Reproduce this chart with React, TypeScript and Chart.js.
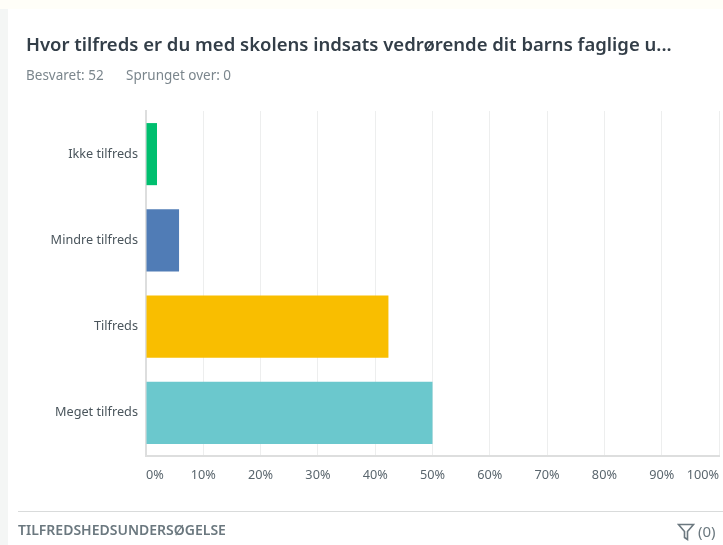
import React, { useEffect, useRef } from "react";
import { Chart, registerables } from "chart.js";

Chart.register(...registerables);

const categories = ["Ikke tilfreds", "Mindre tilfreds", "Tilfreds", "Meget tilfreds"];
const values = [1.92, 5.77, 42.31, 50];
const barColors = ["#00BF6F", "#507CB6", "#F9BE00", "#6BC8CD"];
const titleText = "Hvor tilfreds er du med skolens indsats vedrørende dit barns faglige u...";
const answered = "Besvaret: 52";
const skipped = "Sprunget over: 0";
const footerText = "TILFREDSHEDSUNDERSØGELSE";
const filterText = "(0)";
const FONT = '"Noto Sans", sans-serif';

export default function App() {
  const ref = useRef<HTMLCanvasElement | null>(null);
  useEffect(() => {
    document.body.style.margin = "0";
    const chart = new Chart(ref.current!, {
      type: "bar",
      data: {
        labels: categories,
        datasets: [{ data: values, backgroundColor: barColors, barPercentage: 0.72, categoryPercentage: 1 }],
      },
      options: {
        indexAxis: "y",
        animation: false,
        responsive: false,
        layout: { padding: { top: 111, right: 4, bottom: 0, left: 0 } },
        plugins: { legend: { display: false }, tooltip: { enabled: false } },
        scales: {
          x: {
            min: 0,
            max: 100,
            grid: { color: "#EDEEEE", drawTicks: false, lineWidth: 1 },
            border: { color: "#DDDEDE", width: 2 },
            ticks: {
              stepSize: 10,
              align: "inner",
              padding: 12,
              maxRotation: 0,
              autoSkip: false,
              color: "#5A666E",
              font: { family: FONT, size: 12.7 },
              callback: (v) => v + "%",
            },
            afterFit: (s: any) => { s.height = 89; s.paddingLeft = 0; s.paddingRight = 0; },
          },
          y: {
            grid: { display: false, drawTicks: false },
            border: { color: "#DDDEDE", width: 2 },
            ticks: {
              padding: 8,
              color: "#4A555C",
              font: { family: FONT, size: 12.7 },
            },
            afterFit: (s: any) => { s.width = 146; },
          },
        },
      },
    });
    return () => chart.destroy();
  }, []);

  const abs = (o: React.CSSProperties): React.CSSProperties => ({
    position: "absolute",
    whiteSpace: "nowrap",
    fontFamily: FONT,
    ...o,
  });

  return (
    <div style={{ position: "relative", width: 723, height: 545, overflow: "hidden", background: "#FFFFFF" }}>
      <div style={abs({ left: 0, top: 0, width: 723, height: 9, background: "#FFFEF8" })} />
      <div style={abs({ left: 0, top: 9, width: 8, height: 536, background: "#F4F6F5" })} />
      <canvas ref={ref} width={723} height={545} style={abs({ left: 0, top: 0, display: "block" })} />
      <div style={abs({ left: 26, top: 32, fontSize: 18.5, lineHeight: "24px", fontWeight: 600, color: "#333E48" })}>{titleText}</div>
      <div style={abs({ left: 26, top: 66, fontSize: 13.5, lineHeight: "18px", color: "#7B868D" })}>{answered}</div>
      <div style={abs({ left: 126, top: 66, fontSize: 13.5, lineHeight: "18px", color: "#7B868D" })}>{skipped}</div>
      <div style={abs({ left: 18, top: 511, width: 705, height: 1, background: "#D9DBDB" })} />
      <div style={abs({ left: 18, top: 521, fontSize: 14, lineHeight: "18px", fontWeight: 600, color: "#6B787F" })}>{footerText}</div>
      <svg style={abs({ left: 677, top: 523 })} width="18" height="18" viewBox="0 0 18 18">
        <path d="M1.5 1.5 H16.5 L10.5 8.5 V16.5 L7.5 14.5 V8.5 Z" fill="none" stroke="#6B787F" strokeWidth="1.6" />
      </svg>
      <div style={abs({ left: 698, top: 522, fontSize: 15, lineHeight: "18px", color: "#6B787F" })}>{filterText}</div>
    </div>
  );
}
